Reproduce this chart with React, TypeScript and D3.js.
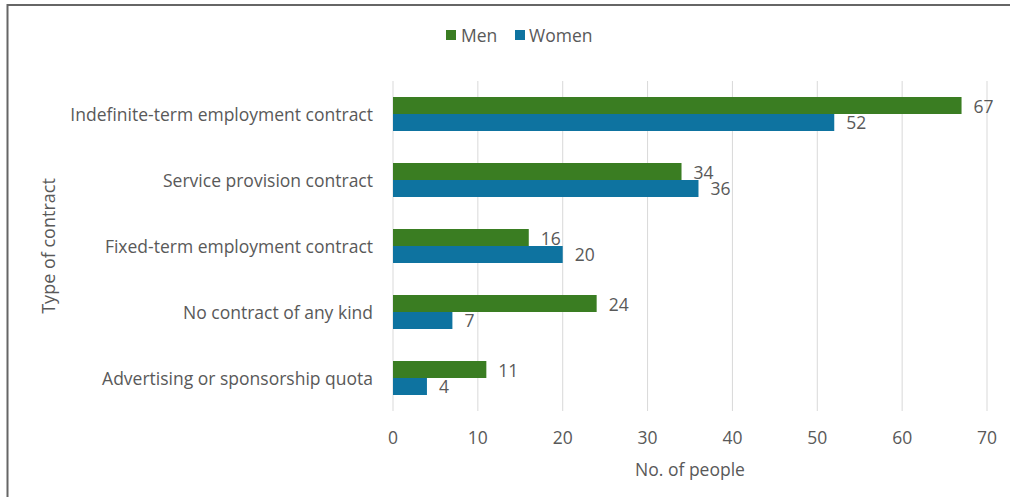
import React from "react";
import * as d3 from "d3";

const categories = [
  "Indefinite-term employment contract",
  "Service provision contract",
  "Fixed-term employment contract",
  "No contract of any kind",
  "Advertising or sponsorship quota",
];
const menValues = [67, 34, 16, 24, 11];
const womenValues = [52, 36, 20, 7, 4];
const xTicks = [0, 10, 20, 30, 40, 50, 60, 70];

const W = 1010;
const H = 497;
const FONT = "'Open Sans', 'Noto Sans', sans-serif";
const TXT = "#595959";
const MEN = "#3a7d22";
const WOMEN = "#0e73a0";
const FS = 17.5;

export default function App() {
  const x = d3.scaleLinear().domain([0, 70]).range([393, 987]);
  const y = d3
    .scaleBand<string>()
    .domain(categories)
    .range([81, 411])
    .paddingInner(0.485)
    .paddingOuter(0.2425);
  const bh = y.bandwidth() / 2;

  return (
    <svg
      width={W}
      height={H}
      style={{ position: "absolute", left: 0, top: 0, background: "#fff" }}
      fontFamily={FONT}
    >
      <rect x={0} y={0} width={W} height={H} fill="#fff" />
      <line x1={7.5} y1={5} x2={W} y2={5} stroke="#666" strokeWidth={2} />
      <line x1={7.5} y1={4} x2={7.5} y2={H} stroke="#666" strokeWidth={2} />

      {xTicks.map((t) => (
        <g key={t}>
          <line x1={x(t)} x2={x(t)} y1={81} y2={411} stroke="#d9d9d9" strokeWidth={1} />
          <text x={x(t)} y={437} textAnchor="middle" dominantBaseline="central" fontSize={FS} fill={TXT}>
            {t}
          </text>
        </g>
      ))}

      {categories.map((c, i) => {
        const y0 = y(c)!;
        return (
          <g key={c}>
            <rect x={x(0)} y={y0} width={x(menValues[i]) - x(0)} height={bh} fill={MEN} />
            <rect x={x(0)} y={y0 + bh} width={x(womenValues[i]) - x(0)} height={bh} fill={WOMEN} />
            <text x={x(menValues[i]) + 12} y={y0 + bh / 2} dominantBaseline="central" fontSize={FS} fill={TXT}>
              {menValues[i]}
            </text>
            <text x={x(womenValues[i]) + 12} y={y0 + bh * 1.5} dominantBaseline="central" fontSize={FS} fill={TXT}>
              {womenValues[i]}
            </text>
            <text x={373} y={y0 + bh} textAnchor="end" dominantBaseline="central" fontSize={FS} fill={TXT}>
              {c}
            </text>
          </g>
        );
      })}

      <text x={690} y={469} textAnchor="middle" dominantBaseline="central" fontSize={FS} fill={TXT}>
        No. of people
      </text>
      <text
        transform={`translate(48,246) rotate(-90)`}
        textAnchor="middle"
        dominantBaseline="central"
        fontSize={18}
        fill={TXT}
      >
        Type of contract
      </text>

      <rect x={446} y={30} width={10} height={10} fill={MEN} />
      <text x={461} y={35} dominantBaseline="central" fontSize={FS} fill={TXT}>
        Men
      </text>
      <rect x={515} y={30} width={10} height={10} fill={WOMEN} />
      <text x={529} y={35} dominantBaseline="central" fontSize={FS} fill={TXT}>
        Women
      </text>
    </svg>
  );
}
